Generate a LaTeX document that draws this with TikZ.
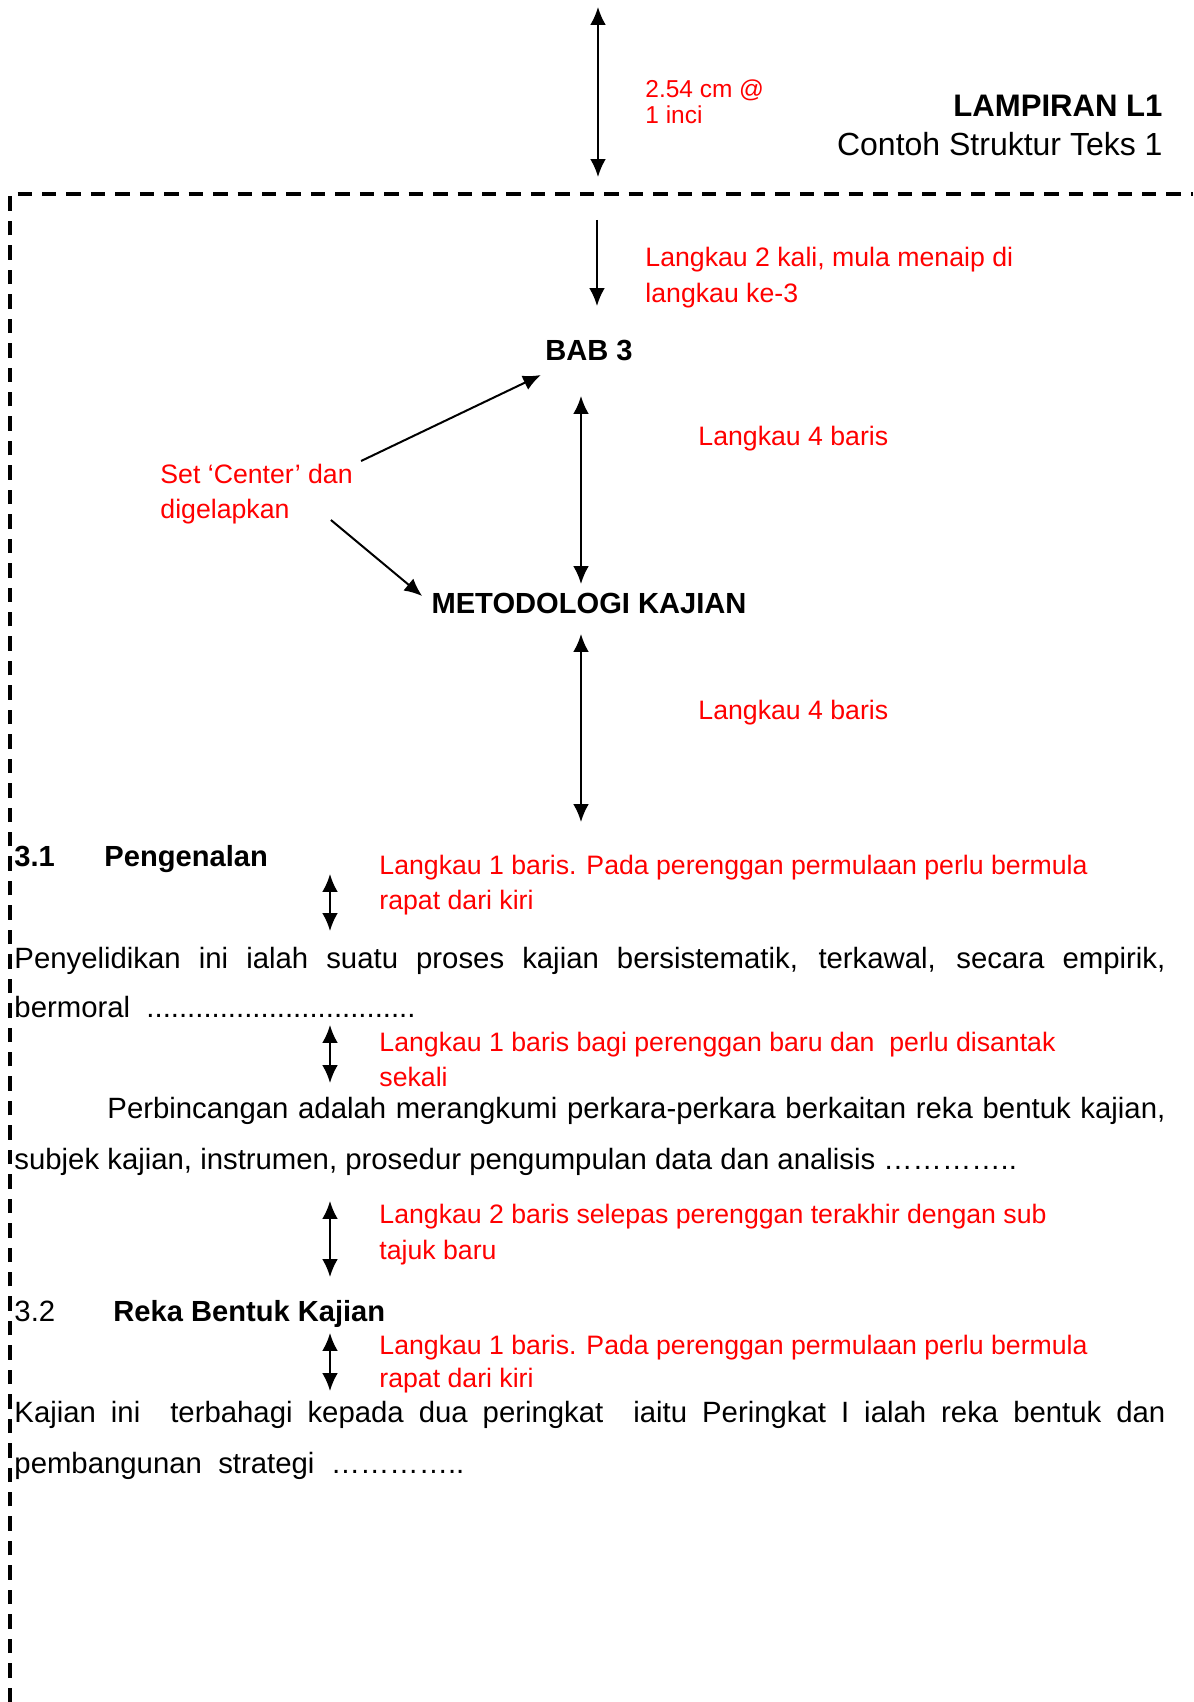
\documentclass[tikz,border=0pt]{standalone}
\usepackage{fontspec}
\setmainfont{Liberation Sans}
\usetikzlibrary{arrows.meta,positioning,calc}

\begin{document}
\begin{tikzpicture}[x=0.45pt, y=-0.45pt]
  \tikzstyle{note} = [anchor=base west, inner sep=0pt, text=red,
                      font=\fontsize{12}{14}\selectfont]
  \tikzstyle{body} = [anchor=base west, inner sep=0pt,
                      font=\fontsize{13.2}{16}\selectfont]
  \tikzstyle{head} = [anchor=base west, inner sep=0pt,
                      font=\fontsize{13.1}{16}\selectfont\bfseries]
  \tikzstyle{title} = [anchor=base, inner sep=0pt,
                       font=\fontsize{13.1}{16}\selectfont\bfseries]
  \tikzstyle{arrow} = [draw, -{Latex[length=8pt,width=7pt]}, line width=0.9pt]
  \tikzstyle{twoway} = [draw, {Latex[length=8pt,width=7pt]}-{Latex[length=8pt,width=7pt]},
                        line width=0.9pt]
  \useasboundingbox (0,0) rectangle (1193,1702);
  % page margin
  \draw[line width=1.5pt, dash pattern=on 6.5pt off 4.5pt]
       (10,1702) -- (10,194) -- (1193,194);
  \coordinate (pgtop) at (598,7);
  \coordinate (mtop) at (598,177);
  \path[twoway] (pgtop) -- (mtop);
  \node[note, font=\fontsize{11}{13}\selectfont] (inch1) at (645,98) {2.54 cm @};
  \node[note, font=\fontsize{11}{13}\selectfont] (inch2) at (645,124) {1 inci};
  \node[anchor=base east, inner sep=0pt, font=\fontsize{14}{16}\selectfont\bfseries]
       (lamp) at (1163,117) {LAMPIRAN L1};
  \node[anchor=base east, inner sep=0pt, font=\fontsize{14.4}{16}\selectfont]
       (teks) at (1163,156) {Contoh Struktur Teks 1};
  % chapter title
  \node[title] (bab) at (589,360) {BAB 3};
  \node[title] (met) at (589,613) {METODOLOGI KAJIAN};
  \coordinate (skip) at (597,220);
  \path[arrow] (skip) -- ($(bab.base)+(8,-54)$);
  \node[note] (skip1) at (645,267) {Langkau 2 kali, mula menaip di};
  \node[note] (skip2) at (645,303) {langkau ke-3};
  \path[twoway] ($(bab.base)+(-8,36)$) -- ($(met.base)+(-8,-29)$);
  \node[note] (gap1) at (698,445) {Langkau 4 baris};
  \node[note] (set1) at (160,483) {Set ‘Center’ dan};
  \node[note] (set2) at (160,518) {digelapkan};
  \path[arrow] ($(set1.base east)+(8,-22)$) -- ($(bab.base west)+(-4,15)$);
  \path[arrow] ($(set2.base east)+(41,2)$) -- ($(met.base west)+(-9,-17)$);
  \coordinate (sec1) at (581,822);
  \path[twoway] ($(met.base)+(-8,21)$) -- (sec1);
  \node[note] (gap2) at (698,719) {Langkau 4 baris};
  % section 3.1
  \node[head] (n31) at (14,866) {3.1};
  \node[head] (t31) at (104,866) {Pengenalan};
  \coordinate (a1) at (330,874);
  \coordinate (b1) at (330,931);
  \path[twoway] (a1) -- (b1);
  \node[note] (r1a) at (379,874) {Langkau 1 baris. Pada perenggan permulaan perlu bermula};
  \node[note] (r1b) at (379,909) {rapat dari kiri};
  \node[body] (p1a) at (14,968)
       {\makebox[517.95pt][s]{Penyelidikan ini ialah suatu proses kajian bersistematik, terkawal, secara empirik,}};
  \node[body] (p1b) at (14,1017) {bermoral~ .................................};
  \coordinate (a2) at (330,1025);
  \coordinate (b2) at (330,1083);
  \path[twoway] (a2) -- (b2);
  \node[note] (r2a) at (379,1051) {Langkau 1 baris bagi perenggan baru dan~ perlu disantak};
  \node[note] (r2b) at (379,1086) {sekali};
  \node[body] (p2a) at (107,1118)
       {\makebox[476.1pt][s]{Perbincangan adalah merangkumi perkara-perkara berkaitan reka bentuk kajian,}};
  \node[body] (p2b) at (14,1169)
       {subjek kajian, instrumen, prosedur pengumpulan data dan analisis …………..};
  \coordinate (a3) at (330,1201);
  \coordinate (b3) at (330,1277);
  \path[twoway] (a3) -- (b3);
  \node[note] (r3a) at (379,1223) {Langkau 2 baris selepas perenggan terakhir dengan sub};
  \node[note] (r3b) at (379,1259) {tajuk baru};
  % section 3.2
  \node[body] (n32) at (14,1321) {3.2};
  \node[head] (t32) at (113,1321) {Reka Bentuk Kajian};
  \coordinate (a4) at (330,1333);
  \coordinate (b4) at (330,1391);
  \path[twoway] (a4) -- (b4);
  \node[note] (r4a) at (379,1354) {Langkau 1 baris. Pada perenggan permulaan perlu bermula};
  \node[note] (r4b) at (379,1387) {rapat dari kiri};
  \node[body] (p3a) at (14,1422)
       {\makebox[517.95pt][s]{Kajian ini~ terbahagi kepada dua peringkat~ iaitu Peringkat I ialah reka bentuk dan}};
  \node[body] (p3b) at (14,1473) {pembangunan~ strategi~ …………..};
\end{tikzpicture}
\end{document}
